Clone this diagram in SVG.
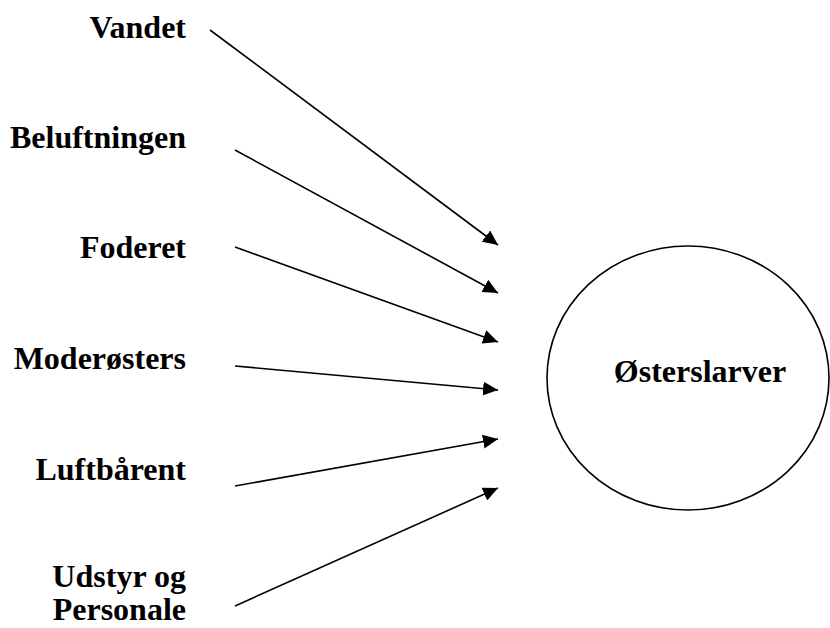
<svg xmlns="http://www.w3.org/2000/svg" width="830" height="628" viewBox="0 0 830 628">
<defs>
<marker id="ah" markerUnits="userSpaceOnUse" markerWidth="16" markerHeight="14" refX="15" refY="7" orient="auto">
<path d="M0,0 L15,7 L0,14 Z" fill="#000"/>
</marker>
<style>
.lbl{font-family:"Liberation Serif","Times New Roman",serif;font-weight:bold;font-size:32px;fill:#000;text-anchor:end}
.ctr{font-family:"Liberation Serif","Times New Roman",serif;font-weight:bold;font-size:32px;fill:#000;text-anchor:middle}
.edge{stroke:#000;stroke-width:1.6;fill:none;marker-end:url(#ah)}
</style>
</defs>
<rect width="830" height="628" fill="#fff"/>
<g id="vandet"><text class="lbl" x="186" y="38">Vandet</text></g>
<g id="beluftningen"><text class="lbl" x="186" y="148">Beluftningen</text></g>
<g id="foderet"><text class="lbl" x="186" y="258">Foderet</text></g>
<g id="moderosters"><text class="lbl" x="186" y="369">Moderøsters</text></g>
<g id="luftbarent"><text class="lbl" x="186" y="480">Luftbårent</text></g>
<g id="udstyr"><text class="lbl" x="186" y="587">Udstyr og</text><text class="lbl" x="186" y="620">Personale</text></g>
<g id="osterslarver">
<ellipse cx="688" cy="378" rx="141" ry="132" fill="none" stroke="#000" stroke-width="1.6"/>
<text class="ctr" x="700" y="382">Østerslarver</text>
</g>
<g id="connectors">
<line class="edge" x1="210" y1="30" x2="498" y2="245"/>
<line class="edge" x1="235" y1="150" x2="498" y2="293"/>
<line class="edge" x1="235" y1="247" x2="498" y2="342"/>
<line class="edge" x1="235" y1="366" x2="498" y2="390"/>
<line class="edge" x1="235" y1="486" x2="498" y2="439"/>
<line class="edge" x1="235" y1="606" x2="498" y2="488"/>
</g>
</svg>
